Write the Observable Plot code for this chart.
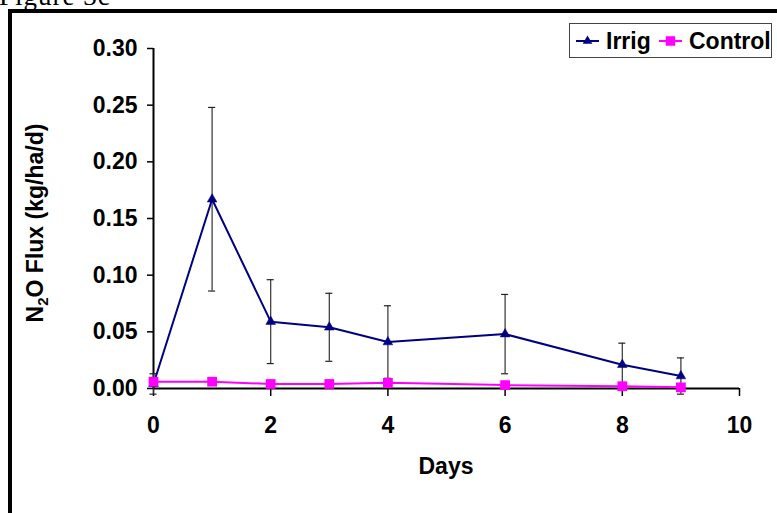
<!DOCTYPE html>
<html>
<head>
<meta charset="utf-8">
<script src="https://cdn.jsdelivr.net/npm/d3@7"></script>
<script src="https://cdn.jsdelivr.net/npm/@observablehq/plot@0.6"></script>
<style>
  html, body { margin: 0; padding: 0; background: #fff; }
  #wrap { position: relative; width: 777px; height: 513px; overflow: hidden; }
  #frame { position: absolute; left: 8px; top: 9px; width: 800px; height: 600px;
           border-left: 4px solid #000; border-top: 4px solid #000; }
  #chart { position: absolute; left: 0; top: 0; }
  #overlay { position: absolute; left: 0; top: 0; pointer-events: none; }
  #legend { position: absolute; left: 569px; top: 23px; width: 201px; height: 33px;
            border: 1px solid #444; background: #fff; }
  .bold { font-family: "Liberation Sans", Arial, sans-serif; font-weight: bold; }
</style>
</head>
<body>
<div id="wrap">
  <div id="frame"></div>
  <div id="chart"></div>
  <div id="legend"></div>
  <svg id="overlay" width="777" height="513"></svg>
</div>
<script>
// ---- data ----
const days      = [0, 1, 2, 3, 4, 6, 8, 9];
const irrig     = [0.004, 0.167, 0.059, 0.054, 0.041, 0.048, 0.021, 0.011];
const irrigErr  = [0.009, 0.081, 0.037, 0.030, 0.032, 0.035, 0.019, 0.016];
const control   = [0.006, 0.006, 0.004, 0.004, 0.005, 0.003, 0.002, 0.001];
const yTicks    = [0, 0.05, 0.10, 0.15, 0.20, 0.25, 0.30];
const xTicks    = [0, 2, 4, 6, 8, 10];
const seriesNames = ["Irrig", "Control"];
const xTitle = "Days";

const irrigData = days.map((d, i) => ({day: d, v: irrig[i], lo: irrig[i] - irrigErr[i], hi: irrig[i] + irrigErr[i]}));
const controlData = days.map((d, i) => ({day: d, v: control[i]}));
const capHalf = 0.06;

const navy = "#000080", magenta = "#ff00ff";

const chart = Plot.plot({
  width: 777, height: 513,
  marginLeft: 153, marginRight: 38, marginTop: 48, marginBottom: 125,
  x: {domain: [0, 10]},
  y: {domain: [0, 0.30]},
  style: {fontFamily: "'Liberation Sans', Arial, sans-serif", fontWeight: "bold", fontSize: "23px",
          color: "#000", background: "transparent", overflow: "visible"},
  marks: [
    Plot.axisY({ticks: yTicks, tickSize: 6, tickPadding: 10, tickFormat: d => d.toFixed(2), label: null, strokeWidth: 1.5}),
    Plot.axisX({ticks: xTicks, tickSize: 8, tickPadding: 20, tickFormat: d => String(d), label: null, strokeWidth: 1.5}),
    Plot.ruleY([0], {stroke: "#000", strokeWidth: 2}),
    Plot.ruleX([0], {stroke: "#000", strokeWidth: 2}),
    // error bars
    Plot.ruleX(irrigData, {x: "day", y1: "lo", y2: "hi", stroke: "#333", strokeWidth: 1.2}),
    Plot.ruleY(irrigData, {y: "hi", x1: d => d.day - capHalf, x2: d => d.day + capHalf, stroke: "#222", strokeWidth: 1.2}),
    Plot.ruleY(irrigData, {y: "lo", x1: d => d.day - capHalf, x2: d => d.day + capHalf, stroke: "#222", strokeWidth: 1.2}),
    // series
    Plot.line(irrigData, {x: "day", y: "v", stroke: navy, strokeWidth: 2}),
    Plot.dot(irrigData, {x: "day", y: "v", symbol: "triangle", r: 3.6, fill: navy, stroke: navy, strokeWidth: 0.5}),
    Plot.line(controlData, {x: "day", y: "v", stroke: magenta, strokeWidth: 2}),
    Plot.dot(controlData, {x: "day", y: "v", symbol: "square", r: 5.5, fill: magenta, stroke: "none"})
  ]
});
document.getElementById("chart").appendChild(chart);

// ---- overlay text: figure label and axis titles ----
const ov = d3.select("#overlay");
ov.append("text")
  .attr("x", -1).attr("y", 5)
  .attr("font-family", "'Liberation Serif', 'Times New Roman', serif")
  .attr("font-size", 27).attr("letter-spacing", "1px")
  .text("Figure 3c");

const yt = ov.append("text")
  .attr("class", "bold")
  .attr("transform", "translate(43,223) rotate(-90)")
  .attr("text-anchor", "middle")
  .attr("font-size", 23);
yt.append("tspan").text("N");
yt.append("tspan").attr("font-size", 15).attr("dy", 5).text("2");
yt.append("tspan").attr("dy", -5).text("O Flux (kg/ha/d)");

ov.append("text")
  .attr("class", "bold")
  .attr("x", 446).attr("y", 474)
  .attr("text-anchor", "middle")
  .attr("font-size", 23)
  .text(xTitle);

// ---- legend ----
const lg = d3.select("#legend").append("svg").attr("width", 201).attr("height", 33);
const lgItems = [
  {name: seriesNames[0], color: navy, sym: d3.symbolTriangle, size: 40, x0: 6, tx: 36},
  {name: seriesNames[1], color: magenta, sym: d3.symbolSquare, size: 90, x0: 89, tx: 119}
];
for (const it of lgItems) {
  lg.append("line").attr("x1", it.x0).attr("x2", it.x0 + 23).attr("y1", 17).attr("y2", 17)
    .attr("stroke", it.color).attr("stroke-width", 2);
  lg.append("path").attr("d", d3.symbol(it.sym, it.size)())
    .attr("transform", `translate(${it.x0 + 11.5},17)`).attr("fill", it.color);
  lg.append("text").attr("class", "bold").attr("x", it.tx).attr("y", 25)
    .attr("font-size", 23).text(it.name);
}
</script>
</body>
</html>
